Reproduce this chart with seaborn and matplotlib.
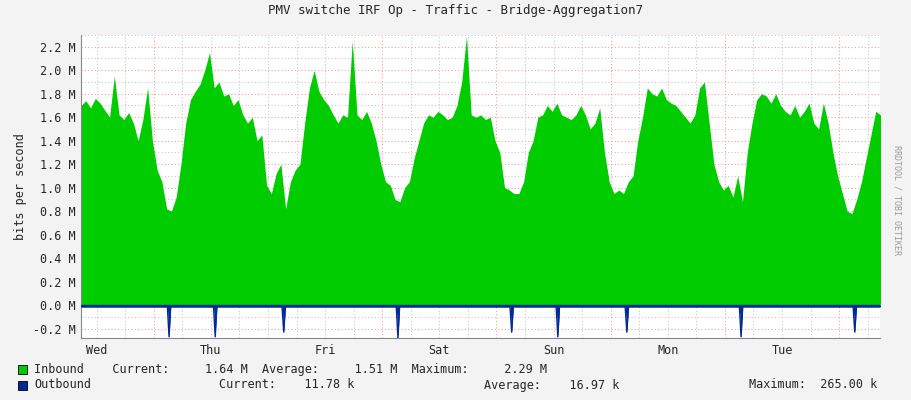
import numpy as np
import matplotlib.pyplot as plt
import seaborn as sns

# hourly inbound traffic (M bits/s), starting Wed ~08:40
inbound = [1.70, 1.74, 1.68, 1.76, 1.72, 1.66, 1.60, 1.95, 1.62, 1.58, 1.64, 1.55, 1.40, 1.58, 1.85,
           1.40, 1.15, 1.05, 0.82, 0.80, 0.92, 1.20, 1.55, 1.75,
           1.82, 1.88, 2.00, 2.15, 1.85, 1.90, 1.78, 1.80, 1.70, 1.75, 1.62, 1.55, 1.60, 1.40, 1.45, 1.02,
           0.95, 1.12, 1.20, 0.82, 1.05, 1.15, 1.20, 1.55,
           1.85, 2.00, 1.82, 1.75, 1.70, 1.62, 1.55, 1.62, 1.60, 2.25, 1.62, 1.58, 1.65, 1.55, 1.40, 1.20,
           1.05, 1.02, 0.90, 0.88, 1.00, 1.05, 1.25, 1.40,
           1.55, 1.62, 1.60, 1.65, 1.62, 1.58, 1.60, 1.70, 1.90, 2.29, 1.62, 1.60, 1.62, 1.58, 1.60, 1.40,
           1.30, 1.00, 0.98, 0.95, 0.95, 1.05, 1.30, 1.40,
           1.60, 1.62, 1.70, 1.65, 1.72, 1.62, 1.60, 1.58, 1.62, 1.70, 1.62, 1.50, 1.55, 1.68, 1.30, 1.05,
           0.95, 0.98, 0.95, 1.05, 1.10, 1.40, 1.60, 1.85,
           1.80, 1.78, 1.85, 1.75, 1.72, 1.70, 1.65, 1.60, 1.55, 1.62, 1.85, 1.90, 1.55, 1.20, 1.05, 0.98,
           1.02, 0.92, 1.10, 0.88, 1.30, 1.55, 1.75, 1.80,
           1.78, 1.72, 1.80, 1.70, 1.65, 1.62, 1.70, 1.60, 1.65, 1.72, 1.55, 1.50, 1.72, 1.55, 1.30, 1.10,
           0.95, 0.80, 0.78, 0.90, 1.05, 1.25, 1.45, 1.65, 1.62]
outbound_base = 0.015
spike_hours = [18.5, 28.2, 42.6, 66.6, 90.5, 100.2, 114.7, 138.7, 162.6]
spike_values = [0.27, 0.27, 0.23, 0.28, 0.23, 0.27, 0.23, 0.27, 0.23]
day_labels = ["Wed", "Thu", "Fri", "Sat", "Sun", "Mon", "Tue"]
first_midnight = 15.3  # hours after start

sns.set_style("white")
plt.rcParams['font.family'] = ['DejaVu Sans Mono']

fig = plt.figure(figsize=(9.11, 4.0), dpi=100, facecolor="#F3F3F3")
ax = fig.add_axes([81 / 911, 62 / 400, 799 / 911, 303 / 400])
ax.set_facecolor("white")

hours = np.arange(len(inbound))
ax.fill_between(hours, 0, inbound, color="#00CC00", lw=0, zorder=2)

# outbound drawn mirrored below zero
out_t = [0]
out_v = [-outbound_base]
for h, v in zip(spike_hours, spike_values):
    out_t += [h - 0.35, h, h + 0.35]
    out_v += [-outbound_base, -v, -outbound_base]
out_t.append(len(inbound))
out_v.append(-outbound_base)
ax.fill_between(out_t, 0, out_v, color="#002A97", lw=0, zorder=3)
ax.plot(out_t, out_v, color="#002A97", lw=1, zorder=3)

ax.set_xlim(0, 167.9)
ax.set_ylim(-0.28, 2.30)

# grid
for y in np.arange(-0.2, 2.31, 0.1):
    major = abs(round(y * 10) % 2) == 0
    ax.axhline(y, color="#F0A0A0" if major else "#C8C8C8", ls=(0, (1, 2)), lw=0.8, zorder=1)
for x in np.arange(first_midnight - 12, 168, 6):
    major = abs((x - first_midnight) % 24) < 0.01
    ax.axvline(x, color="#F0A0A0" if major else "#C8C8C8", ls=(0, (1, 2)), lw=0.8, zorder=1)

ax.set_yticks(np.arange(-0.2, 2.21, 0.2))
ax.set_yticklabels([f"{v:.1f} M" for v in np.arange(-0.2, 2.21, 0.2)], fontsize=8.5)
noon = [first_midnight - 12 + 24 * i for i in range(len(day_labels))]
noon[0] = 3.4
ax.set_xticks(noon)
ax.set_xticklabels(day_labels, fontsize=8.5)
ax.tick_params(length=0, pad=4)
for s in ["top", "right"]:
    ax.spines[s].set_visible(False)
ax.spines["left"].set_color("#888888")
ax.spines["bottom"].set_color("#888888")
ax.axhline(0, color="#002A97", lw=1, zorder=4)
ax.set_ylabel("bits per second", fontsize=8.5)

fig.text(0.5, 0.965, "PMV switche IRF Op - Traffic - Bridge-Aggregation7", ha="center", fontsize=9)
fig.text(0.985, 0.5, "RRDTOOL / TOBI OETIKER", rotation=270, ha="center", va="center", fontsize=6, color="#999999")

fig.patches.append(plt.Rectangle((18 / 911, 1 - 374 / 400), 9 / 911, 9 / 400, transform=fig.transFigure,
                                 facecolor="#00CC00", edgecolor="black", lw=0.6))
fig.patches.append(plt.Rectangle((18 / 911, 1 - 390 / 400), 9 / 911, 9 / 400, transform=fig.transFigure,
                                 facecolor="#002A97", edgecolor="black", lw=0.6))
fig.text(34 / 911, 1 - 369 / 400, "Inbound    Current:     1.64 M  Average:     1.51 M  Maximum:     2.29 M",
         va="center", fontsize=8.5)
fig.text(34 / 911, 1 - 385 / 400, "Outbound", va="center", fontsize=8.5)
fig.text(219 / 911, 1 - 385 / 400, "Current:    11.78 k", va="center", fontsize=8.5)
fig.text(484 / 911, 1 - 385 / 400, "Average:    16.97 k", va="center", fontsize=8.5)
fig.text(749 / 911, 1 - 385 / 400, "Maximum:  265.00 k", va="center", fontsize=8.5)

fig.savefig("out.png", dpi=100, facecolor=fig.get_facecolor())
